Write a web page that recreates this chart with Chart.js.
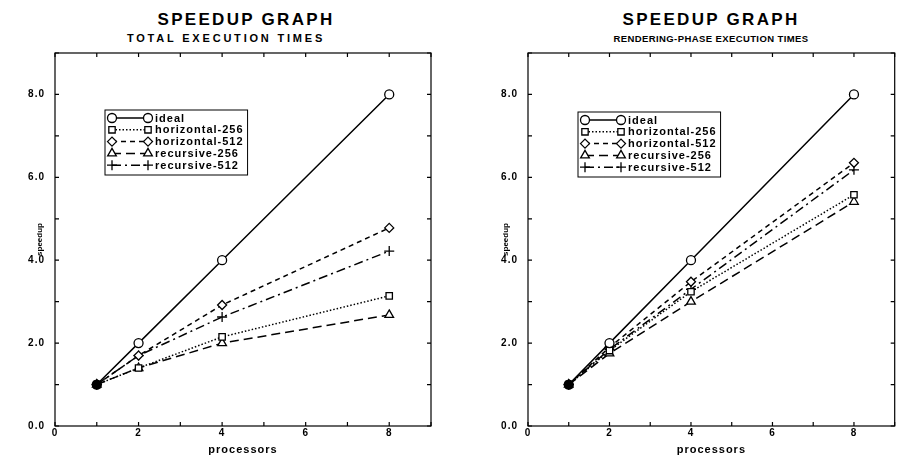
<!DOCTYPE html>
<html lang="en">
<head>
<meta charset="UTF-8">
<title>Speedup Graph</title>
<script src="https://cdn.jsdelivr.net/npm/chart.js"></script>
<style>
    body {
        margin: 0;
        width: 901px;
        height: 457px;
        position: relative;
        overflow: hidden;
        background: #fff;
        font-family: "Liberation Sans", Arial, sans-serif;
        color: #000;
    }
    .title, .sub {
        position: absolute;
        transform: translateX(-50%);
        white-space: nowrap;
        font-weight: bold;
    }
    .title { top: 10px; font-size: 17px; letter-spacing: 2.3px; }
    .sub { top: 32px; font-size: 11px; letter-spacing: 2.8px; }
    .sub.narrow { font-size: 9.5px; letter-spacing: 0.4px; top: 33px; }
    canvas { position: absolute; top: 0; }
</style>
</head>
<body>
    <div class="title" style="left:246px">SPEEDUP GRAPH</div>
    <div class="sub" style="left:226px">TOTAL EXECUTION TIMES</div>
    <div class="title" style="left:711px">SPEEDUP GRAPH</div>
    <div class="sub narrow" style="left:711px">RENDERING-PHASE EXECUTION TIMES</div>
    <canvas id="totalChart" width="450" height="457" style="left:0"></canvas>
    <canvas id="renderChart" width="451" height="457" style="left:450px"></canvas>
<script>
    // processors on the x axis
    const procs = [1, 2, 4, 8];
    const seriesNames = ['ideal', 'horizontal-256', 'horizontal-512', 'recursive-256', 'recursive-512'];

    // total execution times
    const totalIdeal = [1, 2, 4, 8];
    const totalH256 = [1, 1.4, 2.15, 3.14];
    const totalH512 = [1, 1.7, 2.92, 4.78];
    const totalR256 = [1, 1.4, 2.0, 2.68];
    const totalR512 = [1, 1.7, 2.63, 4.22];

    // rendering-phase execution times
    const renderIdeal = [1, 2, 4, 8];
    const renderH256 = [1, 1.82, 3.24, 5.58];
    const renderH512 = [1, 1.9, 3.48, 6.35];
    const renderR256 = [1, 1.75, 3.0, 5.41];
    const renderR512 = [1, 1.85, 3.3, 6.18];

    const yTicks = [0, 2, 4, 6, 8];
    const xTicks = [0, 2, 4, 6, 8];

    const styles = [
        { dash: [], point: 'circle', r: 4.5 },
        { dash: [1.5, 2], point: 'rect', r: 4.5 },
        { dash: [5, 4], point: 'rectRot', r: 4.5 },
        { dash: [9, 5], point: 'triangle', r: 5 },
        { dash: [9, 4, 2, 4], point: 'cross', r: 5 }
    ];

    const FONT = '"Liberation Sans", Arial, sans-serif';

    // box round the plot with small inward ticks on all four sides, plus the y title
    const framePlugin = {
        id: 'frame',
        beforeDraw(chart) {
            chart.ctx.letterSpacing = '1px';
        },
        afterDraw(chart, args, opts) {
            const { ctx, chartArea: a, scales } = chart;
            ctx.save();
            ctx.strokeStyle = '#000';
            ctx.lineWidth = 1.2;
            ctx.setLineDash([]);
            ctx.strokeRect(a.left, a.top, a.right - a.left, a.bottom - a.top);
            ctx.beginPath();
            for (let v = 0; v <= 9; v++) {
                const px = scales.x.getPixelForValue(v);
                ctx.moveTo(px, a.bottom); ctx.lineTo(px, a.bottom - 4);
                ctx.moveTo(px, a.top); ctx.lineTo(px, a.top + 4);
                const py = scales.y.getPixelForValue(v);
                ctx.moveTo(a.left, py); ctx.lineTo(a.left + 4, py);
                ctx.moveTo(a.right, py); ctx.lineTo(a.right - 4, py);
            }
            ctx.stroke();

            ctx.letterSpacing = '0px';
            ctx.font = 'bold 8px ' + FONT;
            ctx.fillStyle = '#000';
            ctx.textAlign = 'center';
            ctx.textBaseline = 'middle';
            ctx.translate(opts.yTitleX, (a.top + a.bottom) / 2);
            ctx.rotate(-Math.PI / 2);
            ctx.fillText(opts.yTitle, 0, 0);
            ctx.restore();
        }
    };

    // boxed legend with a marker at each end of the line sample
    const legendPlugin = {
        id: 'boxLegend',
        afterDatasetsDraw(chart, args, opts) {
            const ctx = chart.ctx;
            const sets = chart.data.datasets;
            const rowH = 11.8;
            ctx.save();
            ctx.font = 'bold 11px ' + FONT;
            ctx.letterSpacing = '1px';
            let tw = 0;
            sets.forEach(ds => { tw = Math.max(tw, ctx.measureText(ds.label).width); });
            const x0 = opts.x, y0 = opts.y;
            const w = 50 + tw + 4;
            const h = sets.length * rowH + 6;
            ctx.fillStyle = '#fff';
            ctx.fillRect(x0, y0, w, h);
            ctx.strokeStyle = '#000';
            ctx.lineWidth = 1;
            ctx.strokeRect(x0, y0, w, h);
            sets.forEach((ds, i) => {
                const y = y0 + 8 + i * rowH;
                ctx.lineWidth = 1.5;
                ctx.setLineDash(ds.borderDash);
                ctx.beginPath();
                ctx.moveTo(x0 + 7, y);
                ctx.lineTo(x0 + 43, y);
                ctx.stroke();
                ctx.setLineDash([]);
                ctx.fillStyle = '#fff';
                ctx.lineWidth = 1.3;
                const p = { pointStyle: ds.pointStyle, radius: ds.pointRadius, rotation: 0, borderWidth: 1.3 };
                Chart.helpers.drawPoint(ctx, p, x0 + 7, y);
                Chart.helpers.drawPoint(ctx, p, x0 + 43, y);
                ctx.fillStyle = '#000';
                ctx.textBaseline = 'middle';
                ctx.textAlign = 'left';
                ctx.fillText(ds.label, x0 + 50, y + 0.5);
            });
            ctx.restore();
        }
    };

    function makeDatasets(seriesList) {
        return seriesList.map((vals, i) => ({
            label: seriesNames[i],
            data: procs.map((p, j) => ({ x: p, y: vals[j] })),
            borderColor: '#000',
            borderWidth: 1.5,
            borderDash: styles[i].dash,
            pointStyle: styles[i].point,
            pointRadius: styles[i].r,
            pointBorderWidth: 1.3,
            // the markers pile up at (1,1) into a solid blob
            pointBackgroundColor: c => c.dataIndex === 0 ? '#000' : '#fff',
            pointBorderColor: '#000',
            fill: false,
            tension: 0
        }));
    }

    function makeChart(id, seriesList, cfg) {
        new Chart(document.getElementById(id), {
            type: 'line',
            data: { datasets: makeDatasets(seriesList) },
            options: {
                responsive: false,
                animation: false,
                layout: { padding: { top: 53, right: cfg.padRight, left: 0, bottom: 0 } },
                plugins: {
                    legend: { display: false },
                    tooltip: { enabled: false },
                    boxLegend: { x: cfg.legendX, y: cfg.legendY },
                    frame: { yTitle: 'speedup', yTitleX: cfg.yTitleX }
                },
                scales: {
                    x: {
                        type: 'linear',
                        min: 0,
                        max: 9,
                        afterBuildTicks: s => { s.ticks = xTicks.map(v => ({ value: v })); },
                        afterFit: s => { s.height = 31; },
                        ticks: {
                            autoSkip: false,
                            maxRotation: 0,
                            padding: 1,
                            color: '#000',
                            font: { family: FONT, size: 10, weight: 'bold' },
                            callback: v => String(v)
                        },
                        grid: { display: false, drawTicks: false },
                        border: { display: false },
                        title: {
                            display: true,
                            text: 'processors',
                            color: '#000',
                            font: { family: FONT, size: 11, weight: 'bold', lineHeight: 1 },
                            padding: { top: 0, bottom: 1.5 }
                        }
                    },
                    y: {
                        min: 0,
                        max: 9,
                        afterBuildTicks: s => { s.ticks = yTicks.map(v => ({ value: v })); },
                        afterFit: s => { s.width = cfg.leftW; },
                        ticks: {
                            autoSkip: false,
                            padding: 10,
                            color: '#000',
                            font: { family: FONT, size: 10, weight: 'bold' },
                            callback: v => v.toFixed(1)
                        },
                        grid: { display: false, drawTicks: false },
                        border: { display: false }
                    }
                }
            },
            plugins: [framePlugin, legendPlugin]
        });
    }

    makeChart('totalChart', [totalIdeal, totalH256, totalH512, totalR256, totalR512],
        { leftW: 55, padRight: 19, yTitleX: 40, legendX: 105, legendY: 110 });
    makeChart('renderChart', [renderIdeal, renderH256, renderH512, renderR256, renderR512],
        { leftW: 78, padRight: 0, yTitleX: 56, legendX: 128, legendY: 112 });
</script>
</body>
</html>
